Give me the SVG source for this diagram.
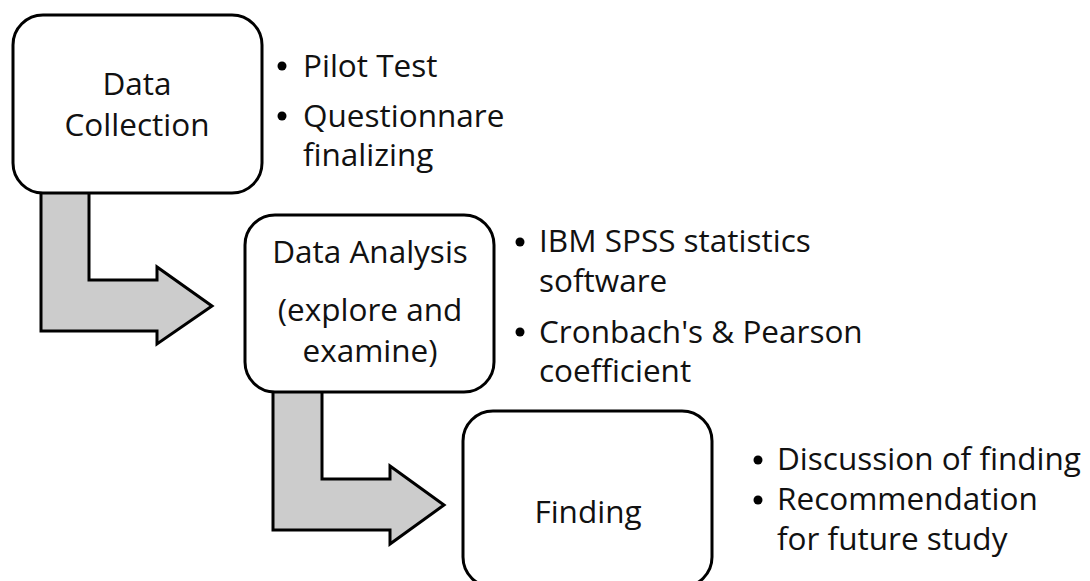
<svg xmlns="http://www.w3.org/2000/svg" width="1090" height="581" viewBox="0 0 1090 581">
<style>
.box{fill:#fff;stroke:#000;stroke-width:3}
.arrow{fill:#cccccc;stroke:#000;stroke-width:3;stroke-linejoin:miter}
text{font-family:"Open Sans","Liberation Sans",sans-serif;font-size:31.5px;fill:#111}
.c{text-anchor:middle}
.dot{fill:#000}
</style>
<rect width="1090" height="581" fill="#fff"/>
<g id="connectors">
<polygon class="arrow" points="41,190 89,190 89,280 157,280 157,267 212,306 157,344 157,331 41,331"/>
<polygon class="arrow" points="273,389 322,389 322,479 390,479 390,466 444,505 390,544 390,530 273,530"/>
</g>
<g id="node-data-collection">
<rect class="box" x="13" y="15" width="249" height="178" rx="30"/>
<text class="c" x="137" y="95">Data</text>
<text class="c" x="137" y="136">Collection</text>
</g>
<g id="notes-data-collection">
<circle class="dot" cx="282" cy="66" r="4.5"/>
<text x="303" y="77">Pilot Test</text>
<circle class="dot" cx="282" cy="116" r="4.5"/>
<text x="303" y="127">Questionnare</text>
<text x="303" y="166">finalizing</text>
</g>
<g id="node-data-analysis">
<rect class="box" x="245" y="215" width="249" height="177" rx="30"/>
<text class="c" x="370" y="263">Data Analysis</text>
<text class="c" x="370" y="321">(explore and</text>
<text class="c" x="370" y="362">examine)</text>
</g>
<g id="notes-data-analysis">
<circle class="dot" cx="520" cy="242" r="4.5"/>
<text x="539" y="252">IBM SPSS statistics</text>
<text x="539" y="292">software</text>
<circle class="dot" cx="520" cy="332" r="4.5"/>
<text x="539" y="343">Cronbach's &amp; Pearson</text>
<text x="539" y="382">coefficient</text>
</g>
<g id="node-finding">
<rect class="box" x="463" y="411" width="249" height="176" rx="30"/>
<text class="c" x="588" y="523">Finding</text>
</g>
<g id="notes-finding">
<circle class="dot" cx="758" cy="460" r="4.5"/>
<text x="777" y="470">Discussion of finding</text>
<circle class="dot" cx="758" cy="500" r="4.5"/>
<text x="777" y="510">Recommendation</text>
<text x="777" y="550">for future study</text>
</g>
</svg>
